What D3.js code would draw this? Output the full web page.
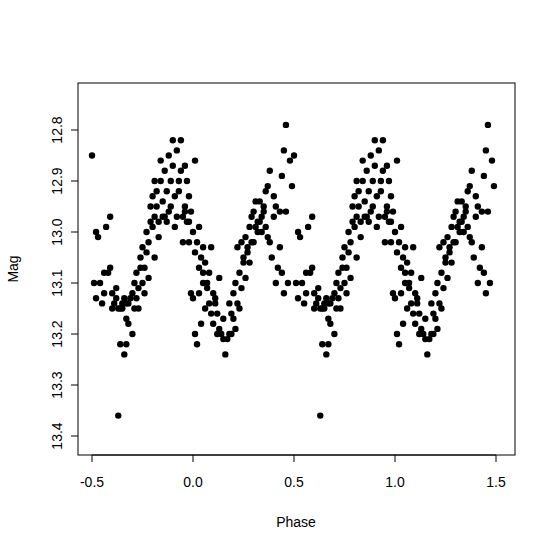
<!doctype html>
<html>
<head>
<meta charset="utf-8" />
<script src="https://d3js.org/d3.v7.min.js"></script>
<style>body{margin:0;background:#fff}</style>
</head>
<body>
<svg width="553" height="552"></svg>
<script>
// one cycle, phase in [-0.5, 0.5); drawn again at phase + 1
var phase = [-0.50,-0.49,-0.48,-0.48,-0.47,-0.46,-0.45,-0.44,-0.43,-0.42,-0.41,-0.40,-0.40,-0.39,-0.38,-0.37,-0.37,-0.36,-0.35,-0.35,-0.34,-0.34,-0.33,-0.33,-0.32,-0.32,-0.31,-0.30,-0.30,-0.29,-0.28,-0.28,-0.27,-0.26,-0.26,-0.25,-0.25,-0.24,-0.23,-0.23,-0.22,-0.21,-0.21,-0.20,-0.20,-0.19,-0.19,-0.18,-0.18,-0.17,-0.16,-0.16,-0.15,-0.15,-0.14,-0.13,-0.13,-0.12,-0.12,-0.11,-0.10,-0.10,-0.09,-0.09,-0.08,-0.08,-0.07,-0.06,-0.06,-0.05,-0.05,-0.04,-0.04,-0.03,-0.03,-0.02,-0.02,-0.01,-0.01,0.00,0.00,0.01,0.01,0.02,0.02,0.03,0.03,0.04,0.04,0.05,0.05,0.06,0.06,0.07,0.08,0.08,0.09,0.10,0.10,0.11,0.12,0.12,0.13,0.14,0.15,0.16,0.17,0.18,0.19,0.20,0.20,0.21,0.22,0.22,0.23,0.24,0.24,0.25,0.26,0.26,0.27,0.28,0.28,0.29,0.30,0.30,0.31,0.32,0.32,0.33,0.34,0.34,0.35,0.36,0.36,0.37,0.38,0.38,0.39,0.40,0.40,0.41,0.42,0.43,0.44,0.44,0.45,0.45,0.46,0.47,0.48,0.49,
  -0.44,-0.41,-0.38,-0.36,-0.33,-0.29,-0.27,-0.24,-0.22,-0.19,-0.17,-0.14,-0.11,-0.07,-0.04,-0.02,0.01,0.03,0.05,0.07,0.09,0.11,0.13,0.15,0.18,0.19,0.21,0.23,0.25,0.27,0.29,0.31,0.33,0.35,0.37,0.41,0.43,0.46];
var mag   = [12.85,13.10,13.00,13.13,13.01,13.10,13.14,13.12,12.99,13.08,13.07,13.12,13.15,13.14,13.11,13.36,13.15,13.22,13.14,13.15,13.24,13.13,13.22,13.17,13.14,13.18,13.13,13.20,13.12,13.10,13.13,13.08,13.11,13.07,13.05,13.10,13.03,13.07,13.00,13.04,13.02,12.98,12.95,12.93,12.99,12.97,12.90,12.95,12.92,12.98,12.90,12.86,12.97,12.94,12.88,12.98,12.92,12.85,12.96,12.90,12.87,12.82,12.93,12.99,12.84,12.97,12.90,12.88,12.82,12.97,13.02,12.87,12.95,12.90,12.98,12.93,13.02,13.12,12.96,13.00,13.13,13.04,13.20,13.02,13.22,13.07,13.12,13.05,13.18,13.08,13.10,13.06,13.15,13.11,13.14,13.08,13.16,13.12,13.18,13.14,13.16,13.20,13.19,13.20,13.21,13.24,13.21,13.20,13.16,13.12,13.17,13.10,13.14,13.03,13.08,13.11,13.02,13.05,13.09,13.01,13.04,12.99,13.06,12.97,13.02,12.96,12.94,13.00,12.98,12.94,12.97,13.00,12.96,12.92,12.99,12.91,13.02,12.88,13.05,12.93,12.97,13.10,13.07,12.96,12.89,13.08,13.12,12.84,12.79,13.10,12.86,12.91,13.08,12.97,
  13.13,13.15,13.14,13.15,13.15,13.12,13.09,13.05,13.01,12.97,12.95,12.92,12.96,12.98,12.86,12.99,13.03,13.10,13.03,13.13,13.09,13.17,13.14,13.20,13.19,13.15,13.06,13.03,13.02,12.99,12.98,12.95,13.01,12.95,13.03,12.96,13.09,12.94];

var svg = d3.select("svg");
var x = d3.scaleLinear().domain([-0.5, 1.5]).range([92, 496]);
var y = d3.scaleLinear().domain([12.8, 13.4]).range([130, 436]);
var font = "Arial, 'Liberation Sans', sans-serif";

var pts = [];
phase.forEach(function(p, i) { pts.push([p, mag[i]]); pts.push([p + 1, mag[i]]); });

svg.append("g").selectAll("circle").data(pts).enter().append("circle")
  .attr("cx", d => x(d[0])).attr("cy", d => y(d[1])).attr("r", 3.2).attr("fill", "#000");

svg.append("rect").attr("x", 78).attr("y", 83).attr("width", 437).attr("height", 372)
  .attr("fill", "none").attr("stroke", "#000");

var xt = [-0.5, 0.0, 0.5, 1.0, 1.5];
var gx = svg.append("g");
xt.forEach(function(t) {
  gx.append("line").attr("x1", x(t)).attr("x2", x(t)).attr("y1", 455).attr("y2", 462).attr("stroke", "#000");
  gx.append("text").attr("x", x(t)).attr("y", 487).attr("text-anchor", "middle")
    .attr("font-family", font).attr("font-size", 14).text(t.toFixed(1));
});
gx.append("line").attr("x1", x(-0.5)).attr("x2", x(1.5)).attr("y1", 455).attr("y2", 455).attr("stroke", "#000");

var yt = [12.8, 12.9, 13.0, 13.1, 13.2, 13.3, 13.4];
var gy = svg.append("g");
yt.forEach(function(t) {
  gy.append("line").attr("x1", 71).attr("x2", 78).attr("y1", y(t)).attr("y2", y(t)).attr("stroke", "#000");
  gy.append("text").attr("transform", "translate(62," + y(t) + ") rotate(-90)").attr("text-anchor", "middle")
    .attr("font-family", font).attr("font-size", 14).text(t.toFixed(1));
});

svg.append("text").attr("x", 296).attr("y", 527).attr("text-anchor", "middle")
  .attr("font-family", font).attr("font-size", 14).text("Phase");
svg.append("text").attr("transform", "translate(18,269) rotate(-90)").attr("text-anchor", "middle")
  .attr("font-family", font).attr("font-size", 14).text("Mag");
</script>
</body>
</html>
